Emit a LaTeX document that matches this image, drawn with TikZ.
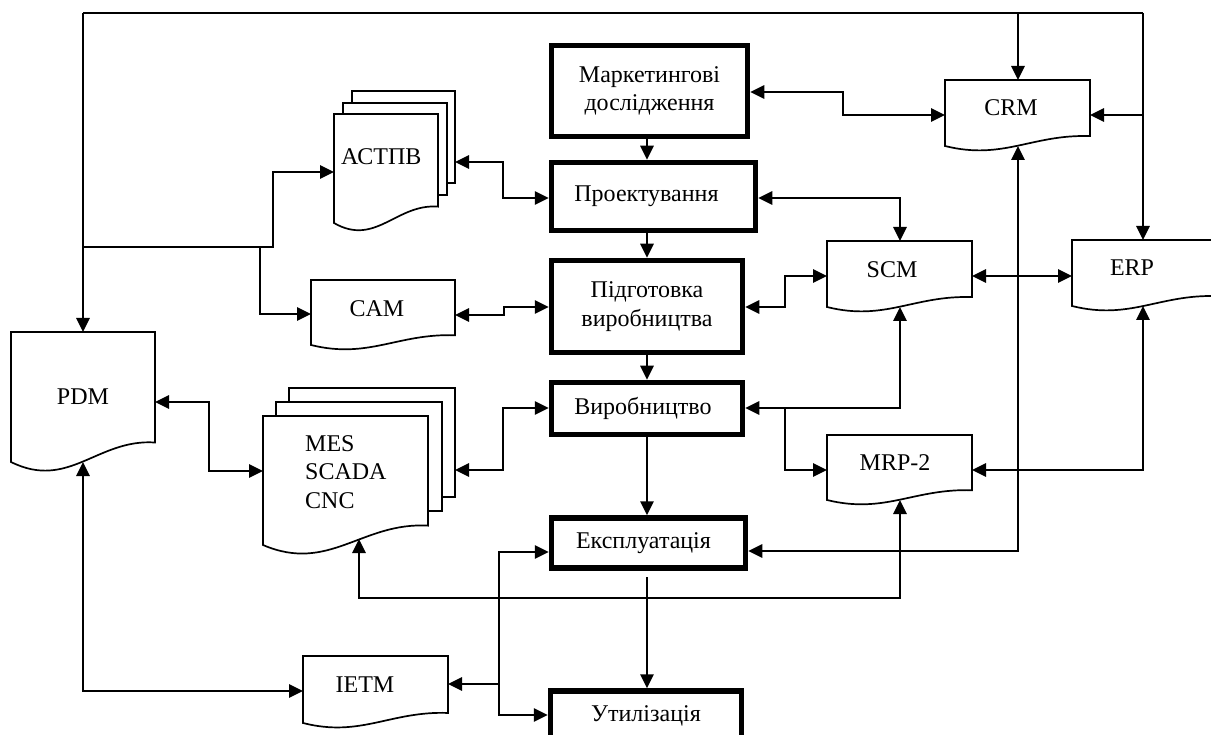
\documentclass[tikz,border=0pt]{standalone}
\usepackage{fontspec}
\setmainfont{Liberation Serif}
\usetikzlibrary{arrows.meta,calc}
\newcommand\fsz{\fontsize{24}{28.5}\selectfont}
\newcommand\docshape[5]{%
  \pgfmathsetmacro\docH{#5-#3}%
  \pgfmathsetmacro\docW{#4-#2}%
  \draw[docline] (#2,#3) -- (#4,#3) -- (#4,#5-0.15*\docH)
    .. controls (#2+0.6*\docW,#5-0.18*\docH) and (#2+0.4*\docW,#5+0.22*\docH) .. (#2,#5) -- cycle;
  \node[inner sep=0pt, outer sep=0pt, minimum width=\docW pt, minimum height=\docH pt] (#1) at ({(#2+#4)/2},{(#3+#5)/2}) {};
}
\begin{document}
\begin{tikzpicture}[x=1pt,y=-1pt,
  >={Triangle[length=14pt,width=13pt]},
  every node/.append style={font=\fsz},
  conn/.style={line width=2.7pt},
  docline/.style={line width=1.7pt, fill=white},
  layer/.style={draw, line width=1.7pt, fill=white, inner sep=0pt, outer sep=0pt},
  proc/.style={draw, line width=5.5pt, inner sep=0pt, outer sep=2.75pt, align=center},
  lbl/.style={inner sep=0pt, align=left}]
\useasboundingbox (0,0) rectangle (1211,735);
\clip (0,0) rectangle (1211,735);

% process boxes
\node[proc, minimum width=196pt, minimum height=91pt] (mark) at (649.5,91) {Маркетингові\\дослідження};
\node[proc, minimum width=204pt, minimum height=68pt] (proekt) at (653.5,196.5) {\hspace*{-14pt}Проектування};
\node[proc, minimum width=191pt, minimum height=92pt] (pidg) at (647,306.5) {Підготовка\\виробництва};
\node[proc, minimum width=191pt, minimum height=52pt] (vyrob) at (647,408.5) {\hspace*{-8pt}Виробництво};
\node[proc, minimum width=194pt, minimum height=50pt] (ekspl) at (648.5,543) {\hspace*{-10pt}Експлуатація};
\node[proc, minimum width=191pt, minimum height=50pt] (util) at (646,716) {Утилізація};

% documents
\node[layer, minimum width=103pt, minimum height=92pt] (actpb3) at (403.5,137) {};
\node[layer, minimum width=104pt, minimum height=92pt] (actpb2) at (395,149) {};
\docshape{actpb}{334}{114}{438}{223}
\node[lbl, anchor=west] (actpbT) at (341,157) {АСТПВ};

\node[layer, minimum width=166pt, minimum height=109pt] (mes3) at (372,442.5) {};
\node[layer, minimum width=166pt, minimum height=109pt] (mes2) at (359,456.5) {};
\docshape{mes}{263}{416}{428}{545}
\node[lbl, anchor=west] (mesT) at (305,472) {MES\\SCADA\\CNC};

\docshape{pdm}{11}{332}{155}{462}
\node[lbl] (pdmT) at (83,397) {PDM};
\docshape{cam}{311}{280}{455}{345}
\node[lbl] (camT) at (377,309) {CAM};
\docshape{ietm}{303}{656}{448}{723}
\node[lbl] (ietmT) at (365,685) {IETM};
\docshape{crm}{945}{80}{1090}{146}
\node[lbl] (crmT) at (1011,108) {CRM};
\docshape{scm}{827}{241}{972}{307}
\node[lbl] (scmT) at (892,270) {SCM};
\docshape{erp}{1072}{240}{1217}{306}
\node[lbl] (erpT) at (1132,268) {ERP};
\docshape{mrp}{827}{435}{972}{500}
\node[lbl] (mrpT) at (895,463) {MRP-2};

% named points on wavy bottoms
\coordinate (crmB) at (1018,146);
\coordinate (scmB) at (900,307);
\coordinate (mrpB) at (900,500);
\coordinate (erpB) at (1143,306);
\coordinate (pdmB) at (83,462);
\coordinate (mesB) at (359,539);

% top bus
\coordinate (tl) at (83,13);
\coordinate (tr) at (1143,13);
\coordinate (tc) at (1018,13);
\draw[conn] (tl) -- (tr);
\draw[conn,->] (tl) -- (pdm.north);
\draw[conn,->] (tr) -- (tr |- erp.north);
\draw[conn,->] (tc) -- (tc |- crm.north);
\coordinate (jerp) at (1143,115);
\draw[conn,->] (jerp) -- (crm.east |- jerp);
\coordinate (jl) at (83,247);
\coordinate (jcam) at (260,247);
\draw[conn,->] (jl) -- (273,247) -- (273,172) -- (actpb.west |- 0,172);
\draw[conn,->] (jcam) -- (260,314) -- (cam.west |- 0,314);

% central flow
\draw[conn,->] (647,0 |- mark.south) -- (647,0 |- proekt.north);
\draw[conn,->] (647,0 |- proekt.south) -- (647,0 |- pidg.north);
\draw[conn,->] (647,0 |- pidg.south) -- (647,0 |- vyrob.north);
\draw[conn,->] (647,0 |- vyrob.south) -- (647,0 |- ekspl.north);
\draw[conn,->] (647,577) -- (647,0 |- util.north);

% side links
\draw[conn,<->] (mark.east |- 0,92) -- (843,92) -- (843,115) -- (crm.west |- 0,115);
\draw[conn,<->] (actpb3.east |- 0,162) -- (503,162) -- (503,198) -- (proekt.west |- 0,198);
\draw[conn,<->] (cam.east |- 0,315) -- (504,315) -- (504,307) -- (pidg.west |- 0,307);
\draw[conn,<->] (pidg.east |- 0,307) -- (785,307) -- (785,276) -- (scm.west |- 0,276);
\draw[conn,<->] (proekt.east |- 0,198) -- (900,198) -- (900,0 |- scm.north);
\draw[conn,<->] (scm.east |- 0,276) -- (erp.west |- 0,276);
\draw[conn,<->] (crmB) -- (1018,551) -- (ekspl.east |- 0,551);
\draw[conn,<->] (vyrob.east |- 0,408) -- (900,408) -- (scmB);
\draw[conn,->] (785,408) -- (785,470) -- (mrp.west |- 0,470);
\draw[conn,<->] (mrp.east |- 0,470) -- (1143,470) -- (erpB);
\draw[conn,<->] (mesB) -- (359,598) -- (900,598) -- (mrpB);
\draw[conn,<->] (pdm.east |- 0,402) -- (209,402) -- (209,471) -- (mes.west |- 0,471);
\draw[conn,<->] (mes3.east |- 0,470) -- (503,470) -- (503,408) -- (vyrob.west |- 0,408);
\draw[conn,<->] (pdmB) -- (83,691) -- (ietm.west |- 0,691);
\draw[conn,<->] (ekspl.west |- 0,552) -- (499,552) -- (499,715) -- (util.west |- 0,715);
\draw[conn,->] (499,684) -- (ietm.east |- 0,684);
\end{tikzpicture}
\end{document}
